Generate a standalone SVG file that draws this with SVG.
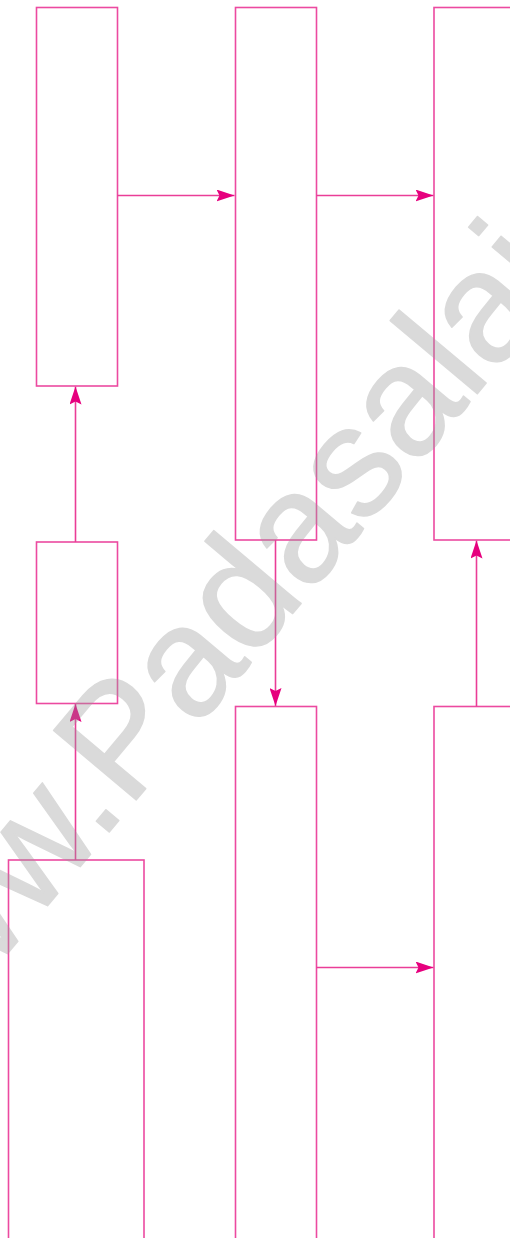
<svg xmlns="http://www.w3.org/2000/svg" width="510" height="1238" viewBox="0 0 510 1238">
<style>
.box{fill:none;stroke:#ec4aa0;stroke-width:1.6}
.edge{fill:none;stroke:#ea3d97;stroke-width:1.6}
.wm{font-family:"Liberation Sans",Arial,sans-serif;font-size:157px;fill:#9a9a9a;stroke:#9a9a9a;stroke-width:1.5;stroke-linejoin:round;opacity:0.36}
</style>
<defs>
<marker id="ah" viewBox="0 0 18 12" refX="18" refY="6" markerWidth="18" markerHeight="12" markerUnits="userSpaceOnUse" orient="auto">
<path d="M0,0 L18,6 L0,12 L3,6 Z" fill="#e6007e"/>
</marker>
</defs>
<rect width="510" height="1238" fill="#ffffff"/>
<g id="nodeA"><rect class="box" x="36.5" y="7.5" width="81" height="378.5"/></g>
<g id="nodeB"><rect class="box" x="235.5" y="7.5" width="81" height="532.5"/></g>
<g id="nodeC"><rect class="box" x="434" y="7.5" width="100" height="532.5"/></g>
<g id="nodeD"><rect class="box" x="36.5" y="542" width="81" height="161.5"/></g>
<g id="nodeE"><rect class="box" x="8.5" y="860" width="135.5" height="400"/></g>
<g id="nodeF"><rect class="box" x="235.5" y="706.5" width="81" height="560"/></g>
<g id="nodeG"><rect class="box" x="434" y="706.5" width="100" height="560"/></g>
<g id="connectors">
<line class="edge" x1="117.5" y1="195.5" x2="234.5" y2="195.5" marker-end="url(#ah)"/>
<line class="edge" x1="316.5" y1="195.5" x2="433.5" y2="195.5" marker-end="url(#ah)"/>
<line class="edge" x1="75.5" y1="542" x2="75.5" y2="386.5" marker-end="url(#ah)"/>
<line class="edge" x1="75.5" y1="860" x2="75.5" y2="704" marker-end="url(#ah)"/>
<line class="edge" x1="275.5" y1="540" x2="275.5" y2="706" marker-end="url(#ah)"/>
<line class="edge" x1="476.5" y1="706.5" x2="476.5" y2="540.5" marker-end="url(#ah)"/>
<line class="edge" x1="316.5" y1="967.5" x2="433.5" y2="967.5" marker-end="url(#ah)"/>
</g>
<text class="wm" transform="translate(-113,1097) rotate(-50)" x="0" y="0">www.Padasalai.Net</text>
</svg>
